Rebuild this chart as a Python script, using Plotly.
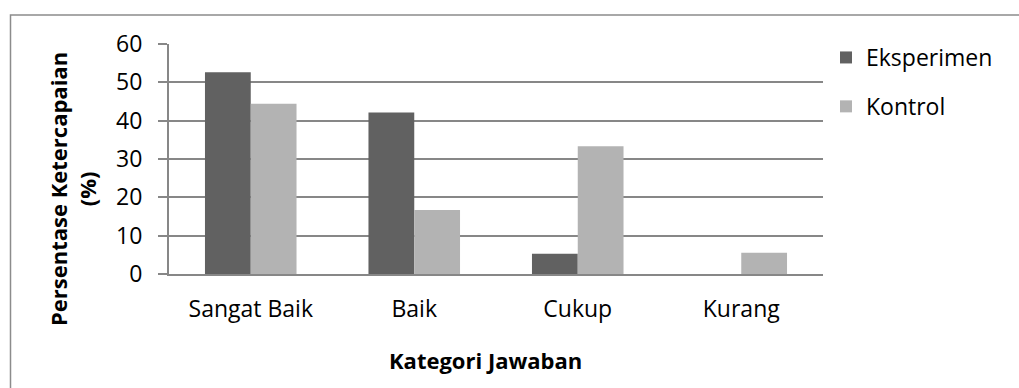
import plotly.graph_objects as go

# Data: percentage of students per answer category
categories = ["Sangat Baik", "Baik", "Cukup", "Kurang"]
eksperimen = [52.63, 42.11, 5.26, 0]
kontrol = [44.44, 16.67, 33.33, 5.56]
y_ticks = [0, 10, 20, 30, 40, 50, 60]

W, H = 1019, 388
L, R, T, B = 169, 196, 44, 114
PW, PH = W - L - R, H - T - B

FONT = "Open Sans"
GRID = "#878787"
FS = 23


def px_x(p):
    return (p - L) / PW


def px_y(p):
    return (H - B - p) / PH


fig = go.Figure()
fig.add_trace(go.Bar(x=categories, y=eksperimen, name="Eksperimen",
                     marker=dict(color="#616161", line=dict(width=0)),
                     legendgroup="a"))
fig.add_trace(go.Bar(x=categories, y=kontrol, name="Kontrol",
                     marker=dict(color="#b3b3b3", line=dict(width=0)),
                     legendgroup="b"))

fig.update_layout(
    width=W, height=H,
    margin=dict(l=L, r=R, t=T, b=B, pad=0),
    paper_bgcolor="white", plot_bgcolor="white",
    font=dict(family=FONT, size=FS, color="#000000"),
    barmode="group", bargap=0.44, bargroupgap=0,
    showlegend=True,
    legend=dict(x=px_x(826), y=px_y(36), xanchor="left", yanchor="top",
                font=dict(family=FONT, size=FS), tracegroupgap=16,
                itemwidth=30, bgcolor="rgba(0,0,0,0)"),
    xaxis=dict(showgrid=False, showline=True, linecolor=GRID, linewidth=2,
               ticks="outside", ticklen=13, tickcolor="rgba(0,0,0,0)",
               tickfont=dict(family=FONT, size=FS), zeroline=False),
    yaxis=dict(range=[0, 60], tickvals=y_ticks, showgrid=True,
               gridcolor=GRID, gridwidth=2, showline=True, linecolor=GRID,
               linewidth=2, ticks="outside", ticklen=9, tickwidth=2,
               tickcolor=GRID, tickfont=dict(family=FONT, size=FS),
               zeroline=False, ticklabelstandoff=11),
)

# Axis titles
fig.add_annotation(text="<b>Kategori Jawaban</b>", xref="paper", yref="paper",
                   x=px_x(485), y=px_y(360), xanchor="center", yanchor="middle",
                   showarrow=False, font=dict(family=FONT, size=22))
fig.add_annotation(text="<b>Persentase Ketercapaian<br>(%)</b>", xref="paper",
                   yref="paper", x=px_x(72), y=px_y(189), xanchor="center",
                   yanchor="middle", textangle=-90, showarrow=False,
                   font=dict(family=FONT, size=22))

# Chart frame
fig.add_shape(type="rect", xref="paper", yref="paper",
              x0=px_x(10.5), x1=px_x(1030), y0=px_y(400), y1=px_y(15),
              line=dict(color="#8c8c8c", width=1.5), layer="below")

fig.write_html("out.html")
